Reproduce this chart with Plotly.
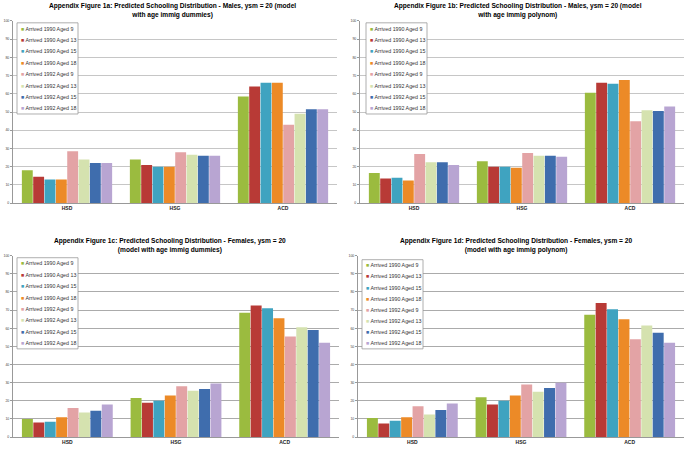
import plotly.graph_objects as go

W, H = 685, 450

categories = ["HSD", "HSG", "ACD"]
series_names = [
    "Arrived 1990 Aged 9", "Arrived 1990 Aged 13", "Arrived 1990 Aged 15", "Arrived 1990 Aged 18",
    "Arrived 1992 Aged 9", "Arrived 1992 Aged 13", "Arrived 1992 Aged 15", "Arrived 1992 Aged 18",
]
colors = ["#9BBB3F", "#B83A36", "#3FA3C0", "#EC8A27", "#E3A3A5", "#D5E2AF", "#3F6DAD", "#B8A5D2"]

titles = [
    "Appendix Figure 1a: Predicted Schooling Distribution - Males, ysm = 20 (model<br>with age immig dummies)",
    "Appendix Figure 1b: Predicted Schooling Distribution - Males, ysm = 20 (model<br>with age immig polynom)",
    "Appendix Figure 1c: Predicted Schooling Distribution - Females, ysm = 20<br>(model with age immig dummies)",
    "Appendix Figure 1d: Predicted Schooling Distribution - Females, ysm = 20<br>(model with age immig polynom)",
]

# values (%) per category, one entry per series (order of series_names)
fig1a_hsd = [18, 14.5, 13, 13, 28.5, 24, 22, 22]
fig1a_hsg = [24, 21, 20, 20, 28, 26.5, 26, 26]
fig1a_acd = [58.5, 64, 66, 66, 43, 49, 51.5, 51.5]

fig1b_hsd = [16.5, 13.5, 14, 12.5, 27, 22.5, 22.5, 21]
fig1b_hsg = [23, 20, 20, 19.5, 27.5, 26, 26, 25.5]
fig1b_acd = [60.5, 66, 65.5, 67.5, 45, 51, 50.5, 53]

fig1c_hsd = [10, 8, 8.5, 11, 16, 13.5, 14.5, 18]
fig1c_hsg = [21.5, 19, 20, 23, 28, 25.5, 26.5, 29.5]
fig1c_acd = [68.5, 72.5, 71, 65.5, 55.5, 60.5, 59, 52]

fig1d_hsd = [10.5, 7.5, 9, 11, 17, 12.5, 15, 18.5]
fig1d_hsg = [22, 18, 20, 23, 29, 25, 27, 30]
fig1d_acd = [67.5, 74, 70.5, 65, 54, 61.5, 57.5, 52]

panels = [
    (fig1a_hsd, fig1a_hsg, fig1a_acd),
    (fig1b_hsd, fig1b_hsg, fig1b_acd),
    (fig1c_hsd, fig1c_hsg, fig1c_acd),
    (fig1d_hsd, fig1d_hsg, fig1d_acd),
]

y_ticks = list(range(0, 101, 10))

# pixel layout of plot areas: (left, right, top, bottom)
areas = [(13, 337, 19, 203), (360, 684, 19, 203), (13, 339, 256, 439), (358, 684, 256, 439)]
title_pos = [(172, 9), (518, 9), (170, 246), (516, 246)]
legend_box = [(17, 78, 21, 113), (366, 427, 21, 113), (17, 78, 258, 350), (362, 423, 260, 350)]
grid_colors = ["#C6C6C6", "#C6C6C6", "#ABABAB", "#ABABAB"]


def px(x):
    return x / W


def py(y):
    return 1 - y / H


fig = go.Figure()
layout = dict(
    width=W, height=H, margin=dict(l=0, r=0, t=0, b=0),
    paper_bgcolor="white", plot_bgcolor="white",
    barmode="group", bargap=0.16, bargroupgap=0.04,
    showlegend=False,
    font=dict(family="Liberation Sans, Arial, sans-serif", color="#222"),
)
annotations = []
shapes = []

for p, (hsd, hsg, acd) in enumerate(panels):
    sfx = "" if p == 0 else str(p + 1)
    xa, ya = "x" + sfx, "y" + sfx
    for s, name in enumerate(series_names):
        fig.add_trace(go.Bar(
            x=categories, y=[hsd[s], hsg[s], acd[s]], name=name,
            marker=dict(color=colors[s], line=dict(width=0)),
            xaxis=xa, yaxis=ya,
        ))
    l, r, t, b = areas[p]
    layout["xaxis" + sfx] = dict(
        domain=[px(l), px(r)], anchor=ya, showgrid=False,
        showline=True, linecolor="#999", linewidth=1,
        ticks="", ticklen=0,
        tickfont=dict(size=5, color="#222", family="Liberation Sans, Arial, sans-serif"),
        tickprefix="<b>", ticksuffix="</b>",
    )
    layout["yaxis" + sfx] = dict(
        domain=[py(b), py(t)], anchor=xa, range=[0, 100],
        tickvals=y_ticks, ticksuffix="%",
        showgrid=True, gridcolor=grid_colors[p], gridwidth=1,
        showline=True, linecolor="#999", linewidth=1,
        ticks="outside", ticklen=2, tickcolor="#999",
        tickfont=dict(size=3.5, color="#444"),
        zeroline=False,
    )
    tx, ty = title_pos[p]
    annotations.append(dict(
        text="<b>" + titles[p] + "</b>", x=px(tx), y=py(ty), xref="paper", yref="paper",
        xanchor="center", yanchor="middle", showarrow=False,
        font=dict(size=6.6, color="#000"),
    ))
    bl, br, bt, bb = legend_box[p]
    shapes.append(dict(
        type="rect", xref="paper", yref="paper",
        x0=px(bl), x1=px(br), y0=py(bb), y1=py(bt),
        line=dict(color="#9a9a9a", width=0.8), fillcolor="white", layer="above",
    ))
    step = (bb - bt) / len(series_names)
    for s, name in enumerate(series_names):
        yy = bt + step * (s + 0.5)
        annotations.append(dict(
            text="<span style='color:%s'>■</span> %s" % (colors[s], name),
            x=px(bl + 2), y=py(yy), xref="paper", yref="paper",
            xanchor="left", yanchor="middle", showarrow=False,
            font=dict(size=5.3, color="#333"),
        ))

layout["annotations"] = annotations
layout["shapes"] = shapes
fig.update_layout(**layout)
fig.write_html("out.html", config={"displayModeBar": False},
               post_script="document.body.style.margin='0px';")
